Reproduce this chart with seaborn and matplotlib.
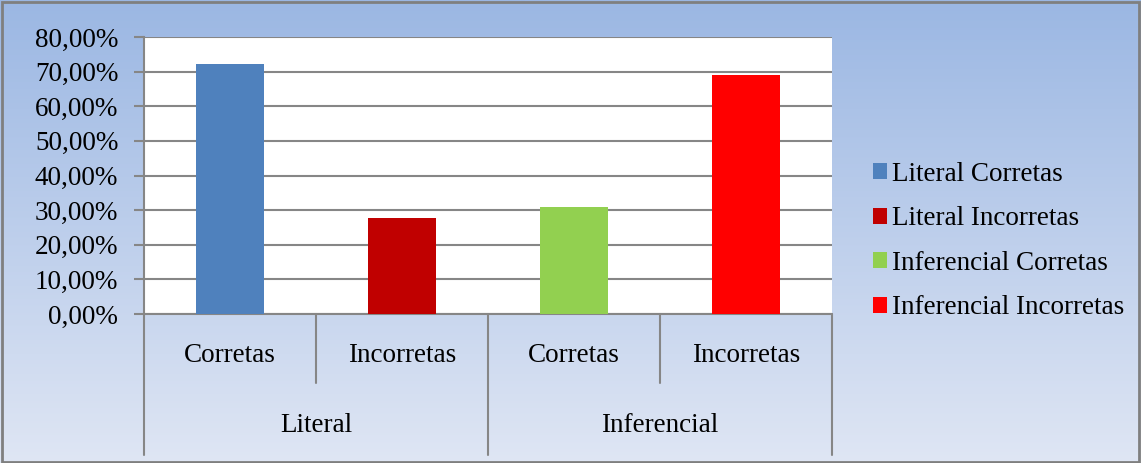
import numpy as np
import pandas as pd
import matplotlib
matplotlib.use("Agg")
import matplotlib.pyplot as plt
import seaborn as sns
from matplotlib.patches import Patch, Rectangle
from matplotlib.colors import LinearSegmentedColormap

# ---- data ----
series = ["Literal Corretas", "Literal Incorretas", "Inferencial Corretas", "Inferencial Incorretas"]
values = [72.2, 27.8, 31.0, 69.0]
sub_labels = ["Corretas", "Incorretas", "Corretas", "Incorretas"]
group_labels = ["Literal", "Inferencial"]
colors = ["#4F81BD", "#C00000", "#92D050", "#FF0000"]
yticks = [0, 10, 20, 30, 40, 50, 60, 70, 80]

sns.set_style("white")
plt.rcParams["font.family"] = ["Liberation Serif", "DejaVu Serif"]
plt.rcParams["text.color"] = "black"
plt.rcParams["ytick.labelcolor"] = "black"

W, H = 1141, 463
fig = plt.figure(figsize=(W / 100, H / 100), dpi=100)

# gradient background
bg = fig.add_axes([0, 0, 1, 1], zorder=-10)
cmap = LinearSegmentedColormap.from_list("bg", ["#DFE6F4", "#9BB7E3"])
grad = np.linspace(0, 1, 256).reshape(-1, 1)
bg.imshow(grad, aspect="auto", cmap=cmap, origin="lower", extent=[0, 1, 0, 1])
bg.set_axis_off()
bg.add_patch(Rectangle((0.002, 0.003), 0.996, 0.993, fill=False, edgecolor="#7F7F7F",
                       linewidth=2, transform=bg.transAxes))

L, R, T, B = 144, 832, 37, 314
ax = fig.add_axes([L / W, 1 - B / H, (R - L) / W, (B - T) / H])
ax.set_facecolor("white")

df = pd.DataFrame({"series": series, "value": values})
sns.barplot(data=df, x="series", y="value", hue="series", palette=colors,
            dodge=False, width=0.4, ax=ax, legend=False, zorder=3, saturation=1,
            linewidth=0, edgecolor="none")

ax.set_ylim(0, 80)
ax.set_xlim(-0.5, 3.5)
ax.set_yticks(yticks)
ax.set_yticklabels([f"{v:.2f}".replace(".", ",") + "%" for v in yticks], fontsize=19.5, color="black")
ax.yaxis.grid(True, color="#868686", linewidth=1.5, zorder=0)
ax.set_axisbelow(True)
ax.tick_params(axis="y", which="major", left=True, length=7, width=1.5, color="#868686", pad=11.5)
ax.tick_params(axis="x", bottom=False, labelbottom=False)
ax.set_xlabel("")
ax.set_ylabel("")
for s in ["top", "right", "bottom"]:
    ax.spines[s].set_visible(False)
ax.spines["left"].set_color("#868686")
ax.spines["left"].set_linewidth(1.5)

# multi-level category axis
ax_h = B - T
def ya(py):
    return (B - py) / ax_h

line_kw = dict(color="#868686", linewidth=1.5, transform=ax.transAxes, clip_on=False)
for xf in [0, 0.5, 1]:
    ax.plot([xf, xf], [0, ya(455)], **line_kw)
for xf in [0.25, 0.75]:
    ax.plot([xf, xf], [0, ya(383)], **line_kw)
ax.plot([0, 1], [0, 0], **line_kw)

for i, lab in enumerate(sub_labels):
    ax.text((i + 0.5) / 4, ya(356), lab, transform=ax.transAxes, ha="center", va="center",
            fontsize=19.5, color="black")
for i, lab in enumerate(group_labels):
    ax.text((i + 0.5) / 2, ya(425), lab, transform=ax.transAxes, ha="center", va="center",
            fontsize=19.5, color="black")

handles = [Patch(facecolor=c, edgecolor="none") for c in colors]
leg = fig.legend(handles, series, loc="center left", bbox_to_anchor=(873 / W, 1 - 241 / H),
                 frameon=False, fontsize=19.5, handlelength=0.52, handleheight=0.52,
                 handletextpad=0.2, labelspacing=0.72, borderaxespad=0, borderpad=0)
for t in leg.get_texts():
    t.set_color("black")

fig.savefig("out.png", dpi=100)
